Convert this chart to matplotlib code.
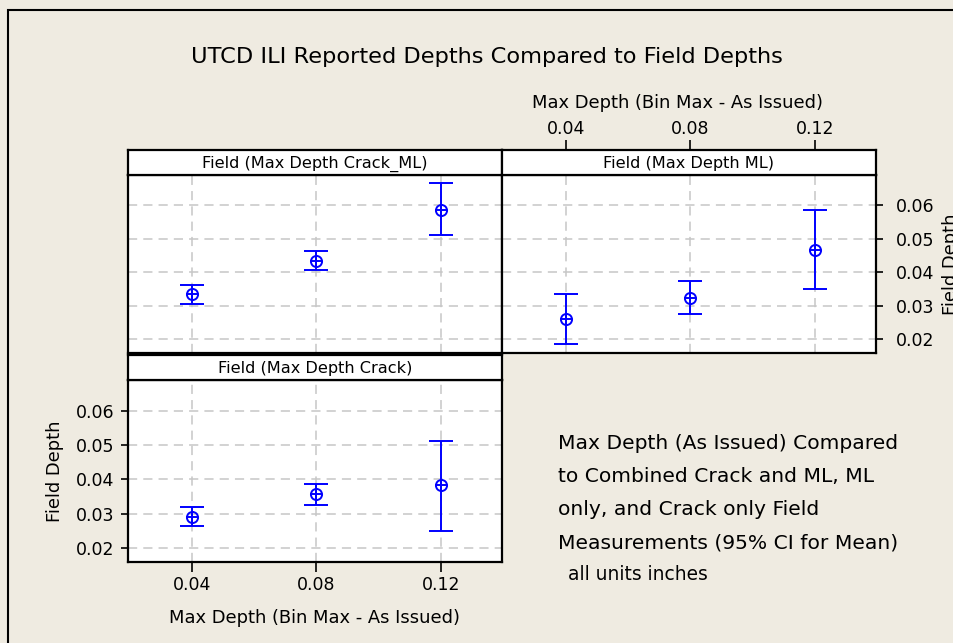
import matplotlib
matplotlib.use("Agg")
import matplotlib.pyplot as plt
from matplotlib.patches import Rectangle

# ---- data ----
x_bins = [0.04, 0.08, 0.12]
x_ticklabels = ["0.04", "0.08", "0.12"]
y_ticks = [0.02, 0.03, 0.04, 0.05, 0.06]

crack_ml_mean = [0.0334, 0.0432, 0.0587]
crack_ml_low = [0.0304, 0.0408, 0.0512]
crack_ml_high = [0.0363, 0.0462, 0.0665]

ml_mean = [0.0260, 0.0323, 0.0466]
ml_low = [0.0185, 0.0275, 0.0349]
ml_high = [0.0334, 0.0374, 0.0587]

crack_mean = [0.0289, 0.0358, 0.0383]
crack_low = [0.0264, 0.0324, 0.0249]
crack_high = [0.0319, 0.0388, 0.0511]

panel_titles = ["Field (Max Depth Crack_ML)", "Field (Max Depth ML)", "Field (Max Depth Crack)"]

W, H = 954, 643
BG = "#EFEBE1"
BLUE = "#0000FF"
FONT = "DejaVu Sans"
XLIM = (0.0194, 0.1397)
YLIM = (0.0159, 0.0690)
TICK_FS = 12.5

plt.rcParams['font.family'] = FONT
fig = plt.figure(figsize=(W / 100, H / 100), dpi=100, facecolor=BG)


def fr(x0, y0, x1, y1):
    # pixel box (top-left origin) -> figure fraction rect
    return [x0 / W, 1 - y1 / H, (x1 - x0) / W, (y1 - y0) / H]


# outer border (left and top visible)
fig.patches.append(Rectangle((8 / W, -0.1), 2, 1 - 10 / H + 0.1, transform=fig.transFigure,
                             fill=False, edgecolor="black", linewidth=1.5, zorder=0))


def make_panel(box, strip_box, title, mean, low, high):
    ax = fig.add_axes(fr(*box))
    ax.set_facecolor("white")
    ax.set_xlim(*XLIM)
    ax.set_ylim(*YLIM)
    ax.set_xticks(x_bins)
    ax.set_xticklabels(x_ticklabels)
    ax.set_yticks(y_ticks)
    ax.grid(True, color="#C6C6C6", linestyle=(0, (6, 4)), linewidth=1.1)
    ax.set_axisbelow(True)
    for s in ax.spines.values():
        s.set_linewidth(1.6)
        s.set_color("black")
    yerr = [[m - l for m, l in zip(mean, low)], [h - m for m, h in zip(mean, high)]]
    ax.errorbar(x_bins, mean, yerr=yerr, fmt="none", ecolor=BLUE, elinewidth=1.4,
                capsize=8.6, capthick=1.4, zorder=3)
    ax.plot(x_bins, mean, linestyle="none", marker="o", markersize=8,
            markerfacecolor="none", markeredgecolor=BLUE, markeredgewidth=1.4, zorder=4)
    ax.plot(x_bins, mean, linestyle="none", marker="+", markersize=8,
            markeredgecolor=BLUE, markeredgewidth=1.4, zorder=4)
    ax.tick_params(direction="out", length=5, width=1.2, labelsize=TICK_FS, colors="black")

    sax = fig.add_axes(fr(*strip_box))
    sax.set_facecolor("white")
    sax.set_xlim(*XLIM)
    sax.set_xticks([])
    sax.set_yticks([])
    for s in sax.spines.values():
        s.set_linewidth(1.6)
    sax.text(0.5, 0.45, title, ha="center", va="center", fontsize=11.6,
             transform=sax.transAxes)
    return ax, sax


ax1, s1 = make_panel((128, 175, 502, 353), (128, 150, 502, 175), panel_titles[0],
                     crack_ml_mean, crack_ml_low, crack_ml_high)
ax1.tick_params(left=False, bottom=False, labelleft=False, labelbottom=False)

ax2, s2 = make_panel((502, 175, 876, 353), (502, 150, 876, 175), panel_titles[1],
                     ml_mean, ml_low, ml_high)
ax2.tick_params(left=False, bottom=False, labelleft=False, labelbottom=False,
                right=True, labelright=True, pad=9)
ax2.yaxis.set_label_position("right")
ax2.set_ylabel("Field Depth", fontsize=12.9, labelpad=6)

# top axis ticks sit on the strip of the ML panel
s2.set_xticks(x_bins)
s2.set_xticklabels(x_ticklabels)
s2.tick_params(axis="x", top=True, labeltop=True, bottom=False, labelbottom=False,
               direction="out", length=7, width=1.2, labelsize=TICK_FS, pad=1.5)
fig.text(678 / W, 1 - 103 / H, "Max Depth (Bin Max - As Issued)", ha="center",
         va="center", fontsize=12.9)

ax3, s3 = make_panel((128, 380, 502, 562), (128, 355, 502, 380), panel_titles[2],
                     crack_mean, crack_low, crack_high)
ax3.set_xlabel("Max Depth (Bin Max - As Issued)", fontsize=12.9, labelpad=11)
ax3.set_ylabel("Field Depth", fontsize=12.9, labelpad=8)
ax3.tick_params(axis="x", length=7, pad=3)
ax3.tick_params(axis="y", pad=5)

fig.text(487 / W, 1 - 57 / H, "UTCD ILI Reported Depths Compared to Field Depths",
         ha="center", va="center", fontsize=16.2)

fig.text(558 / W, 1 - 434 / H,
         "Max Depth (As Issued) Compared\nto Combined Crack and ML, ML\nonly, and Crack only Field\nMeasurements (95% CI for Mean)",
         ha="left", va="top", fontsize=14.6, linespacing=1.94)
fig.text(568 / W, 1 - 575 / H, "all units inches", ha="left", va="center", fontsize=13.4)

fig.savefig("out.png", dpi=100, facecolor=BG)
